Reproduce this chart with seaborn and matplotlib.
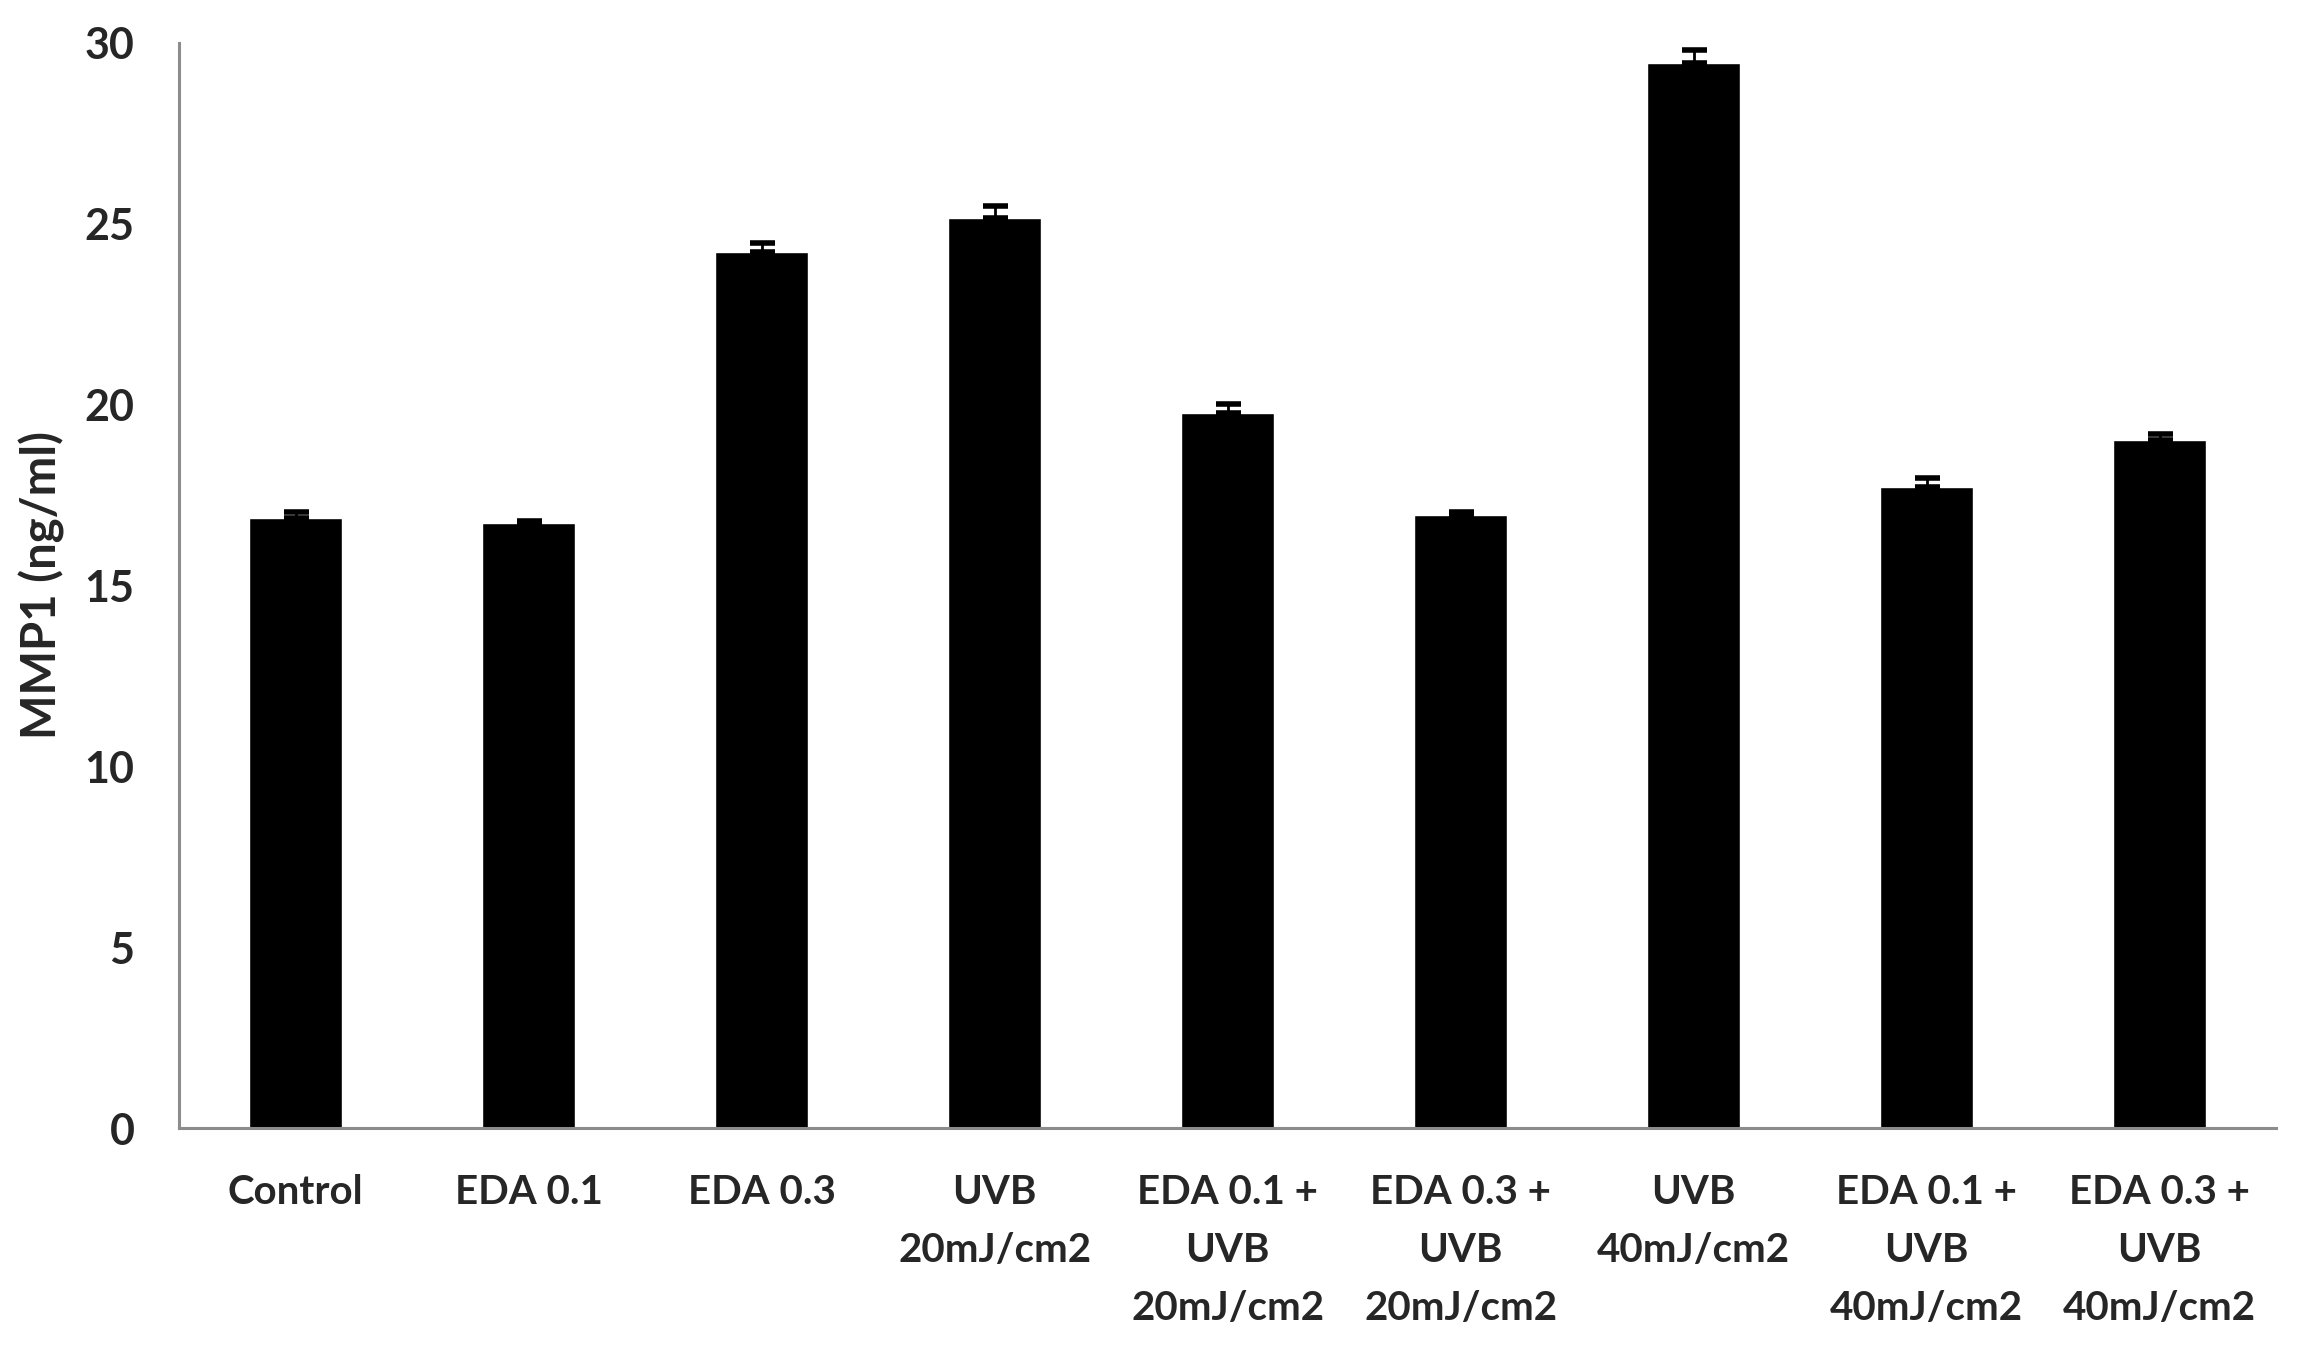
import pandas as pd
import numpy as np
import matplotlib
matplotlib.use('Agg')
import matplotlib.pyplot as plt
import seaborn as sns

# 데이터
groups = ['Control', 'EDA 0.1', 'EDA 0.3', 'UVB\n20mJ/cm2', 'EDA 0.1 +\nUVB\n20mJ/cm2',
          'EDA 0.3 +\nUVB\n20mJ/cm2', 'UVB\n40mJ/cm2', 'EDA 0.1 +\nUVB\n40mJ/cm2',
          'EDA 0.3 +\nUVB\n40mJ/cm2']
mmp1 = [16.87, 16.72, 24.22, 25.15, 19.77, 16.95, 29.45, 17.73, 19.03]
err = [0.15, 0.05, 0.25, 0.35, 0.25, 0.07, 0.35, 0.25, 0.15]

df = pd.DataFrame({'group': groups, 'mmp1': mmp1})

sns.set_style('white')
plt.rcParams['font.family'] = ['Lato', 'DejaVu Sans']
plt.rcParams['font.weight'] = 'bold'

fig = plt.figure(figsize=(23.04, 13.49), dpi=100)
ax = fig.add_axes([0.0777, 0.1638, 0.9103, 0.8045])

sns.barplot(data=df, x='group', y='mmp1', color='black', width=0.4,
            saturation=1, errorbar=None, ax=ax)
ax.errorbar(groups, mmp1, yerr=[np.zeros(len(err)), err], fmt='none',
            ecolor='black', elinewidth=2, capsize=9, capthick=4)

ax.set_ylim(0, 30)
ax.set_xlim(-0.5, len(groups) - 0.5)
ax.set_yticks([0, 5, 10, 15, 20, 25, 30])
ax.set_xlabel('')
ax.set_ylabel('MMP1 (ng/ml)', fontsize=34, fontweight='bold', labelpad=14)

for s in ['top', 'right']:
    ax.spines[s].set_visible(False)
for s in ['left', 'bottom']:
    ax.spines[s].set_color('#8c8c8c')
    ax.spines[s].set_linewidth(2.2)

ax.tick_params(axis='y', length=0, pad=32, labelsize=31)
ax.tick_params(axis='x', length=0, pad=33, labelsize=29)
for lab in ax.get_xticklabels():
    lab.set_linespacing(1.7)
    lab.set_fontweight('bold')
for lab in ax.get_yticklabels():
    lab.set_fontweight('bold')

plt.savefig('out.png', dpi=100)
